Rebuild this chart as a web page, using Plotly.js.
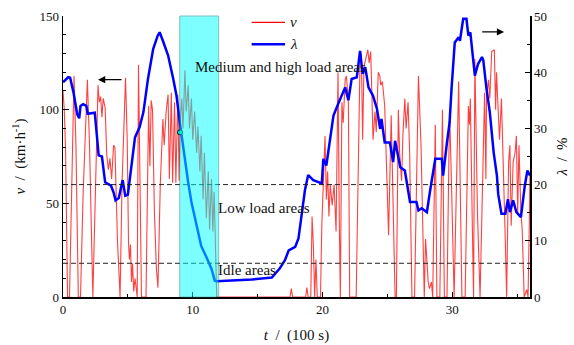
<!DOCTYPE html>
<html>
<head>
<meta charset="utf-8">
<script src="https://cdn.plot.ly/plotly-3.0.1.min.js"></script>
<style>html,body{margin:0;padding:0;background:#fff;}#chart{width:574px;height:345px;}</style>
</head>
<body>
<div id="chart"></div>
<script>
// Speed v (km/h) vs time t (100 s)
const vT = [0,0.1,0.2,0.35,0.5,0.65,0.85,1.0,1.18,1.35,1.55,1.88,2.05,2.3,2.45,2.7,2.8,2.9,3.0,3.1,3.25,3.37,3.5,3.62,3.75,3.9,4.0,4.2,4.4,4.55,4.82,4.95,5.05,5.12,5.2,5.28,5.36,5.45,5.55,5.65,5.72,5.82,5.95,6.05,6.4,6.6,6.7,6.8,6.9,7.05,7.2,7.32,7.5,7.7,7.8,7.95,8.1,8.2,8.35,8.45,8.6,8.7,8.85,8.95,
  9.05,9.15,9.25,9.4,9.5,9.65,9.75,9.9,10.0,10.15,10.3,10.4,10.55,10.65,10.8,10.9,11.05,11.2,11.3,11.45,11.55,11.65,11.85,
  17.5,17.6,17.7,18.7,18.8,18.9,19.1,19.2,19.3,19.4,19.5,19.6,19.85,19.95,20.07,20.2,20.3,20.4,20.5,20.6,20.75,20.9,21.05,21.2,21.3,21.38,21.5,21.6,21.75,21.85,22.0,22.1,22.6,22.9,23.0,23.1,23.2,23.35,23.5,23.6,23.72,23.82,23.9,24.05,24.15,24.3,24.42,24.5,24.62,24.8,24.95,25.1,25.3,25.45,25.6,25.7,25.85,25.95,26.1,26.2,26.35,26.45,26.6,26.72,26.9,27.1,27.4,27.6,27.85,27.95,28.05,28.15,28.25,28.4,28.5,28.7,28.82,29.05,29.25,29.4,29.6,29.8,29.95,30.15,30.5,30.75,31.0,31.25,31.33,31.4,31.55,31.65,31.75,31.85,31.95,32.15,32.5,32.6,32.65,32.8,32.9,33.05,33.25,33.35,33.42,33.5,33.65,33.8,33.95,34.1,34.2,34.35,34.45,34.55,34.7,34.85,34.95,35.05,35.15,35.3,35.4,35.55,35.75,35.85,35.95,36.0];
const vV = [110,100,78,0,0,60,118,80,0,0,55,116,80,0,40,113,104,107,96,106,101,76,68,74,63,81,80,30,0,60,117,84,29,20,28,8,18,3,10,2,0,124,50,0,0,102,70,105,100,45,15,5,60,95,81,99,108,63,109,61,104,61,108,62,
  95,106,90,121,99,113,90,106,84,99,77,91,67,86,52,77,42,67,36,63,35,56,0,
  0,4.5,0,0,5,0,0,43,28,0,20,0,0,38,67,86,52,67,43,60,49,60,35,120,40,0,104,93,116,118,104,0,0,127,130,84,123,127,132,125,131,106,84,99,88,120,118,113,115,102,72,33,97,50,0,0,100,77,62,86,106,90,104,78,0,0,118,81,0,31,20,8,4.5,8,0,92,0,0,100,0,0,100,60,0,115,0,0,102,92,106,40,0,127,81,45,0,109,63,107,116,106,131,132,100,120,107,84,106,72,29,0,72,81,38,72,77,86,45,81,45,36,0,4,0,40,66];

// Load ratio lambda (%) vs time t (100 s)
const lamT = [0,0.4,0.55,0.8,1.1,1.25,1.35,1.55,1.8,1.9,2.45,2.6,2.75,3.0,3.1,3.25,3.7,3.9,4.05,4.3,4.6,4.8,5.0,5.2,5.55,5.9,6.2,6.55,6.95,7.3,7.45,7.7,8.1,8.5,8.75,9.0,9.1,9.4,9.65,9.9,10.3,10.65,11.05,11.45,11.7,11.85,14.55,16.1,16.7,17.1,17.4,17.9,18.15,18.4,18.65,18.9,19.3,19.95,20.07,20.3,20.6,20.85,21.2,21.5,21.75,22.0,22.25,22.65,22.9,23.1,23.3,23.55,23.9,24.2,24.45,24.55,24.8,25.2,25.45,25.6,26.0,26.35,26.75,27.25,27.4,27.65,28.05,28.3,28.7,29.2,29.3,29.6,29.8,29.95,30.2,30.5,30.6,30.85,31.1,31.25,31.4,31.75,32.0,32.3,32.4,32.65,32.9,33.2,33.45,33.55,33.8,34.1,34.3,34.45,34.7,34.95,35.3,35.6,35.8,36.0];
const lamV = [38.2,39.1,39,36.5,32.5,31.8,34,34.3,34,32.6,32.8,29,25.2,25,22.8,20.4,19.8,18.6,17.2,17.6,20.8,18,18.2,22.2,28.4,30.2,32.9,38.8,44.1,46.5,47.1,45.6,43,38.8,35.8,31.1,29.3,24.6,20.4,16.9,12.7,9.1,7.1,5,2.9,2.8,3.1,3.45,5.05,6.5,8.3,8.9,10.4,14.8,19,21.7,20.8,20.2,24.6,23.4,28.7,32.3,34.3,35.8,37.3,35,38.8,39.1,43.8,39.7,40.9,37.3,35.8,33.5,29.9,31.7,27.5,27.5,24,27.8,23.1,22.5,16.9,16.9,15.4,15.8,15.1,18.9,24.6,24.6,21.6,27.5,31,37,45.3,46.2,45.6,49.5,49.5,46.5,47.1,39.4,41.5,42.7,42.1,37,32.9,25.7,21.6,18.3,14.8,14.8,17.4,15.1,17.2,15.1,14.2,19.8,22.5,21.6];

// highlighted point at the start of the shaded area
const dotT = [9.02];
const dotL = [29.3];

// reference levels and region
const vLevels = [60, 18];
const regionT = [9, 12];

// legend entries
const legendNames = ['<i>v</i>', '<i>λ</i>'];

const serif = '"Liberation Serif", "Times New Roman", serif';
const vLine = {color: 'rgba(255,0,0,0.75)', width: 1.1};
const lamLine = {color: '#0000ff', width: 2.5};

const traces = [
  {x: vT, y: vV, type: 'scatter', mode: 'lines', name: legendNames[0], line: vLine, yaxis: 'y'},
  {x: lamT, y: lamV, type: 'scatter', mode: 'lines', name: legendNames[1], line: lamLine, yaxis: 'y2'},
  {x: dotT, y: dotL, type: 'scatter', mode: 'markers', yaxis: 'y2',
   marker: {size: 5, color: '#00ffff', line: {color: '#000', width: 1}}}
];

const shapes = vLevels.map(v => ({
  type: 'line', xref: 'paper', x0: 0, x1: 1, yref: 'y', y0: v, y1: v,
  line: {color: '#222', width: 1, dash: '5px,3px'}, layer: 'above'
}));
shapes.push({
  type: 'rect', xref: 'x', x0: regionT[0], x1: regionT[1], yref: 'paper', y0: 0, y1: 1,
  fillcolor: '#00ffff', opacity: 0.5, line: {color: '#007f7f', width: 1}, layer: 'above'
});
// legend samples
const legX0 = 0.404, legX1 = 0.4754, legY = [0.9776, 0.8993];
shapes.push({type: 'line', xref: 'paper', yref: 'paper', x0: legX0, x1: legX1, y0: legY[0], y1: legY[0], line: {color: '#ff0000', width: 1.2}, layer: 'above'});
shapes.push({type: 'line', xref: 'paper', yref: 'paper', x0: legX0, x1: legX1, y0: legY[1], y1: legY[1], line: lamLine, layer: 'above'});

const annFont = {family: serif, size: 15, color: '#111'};
const annotations = [
  {x: 10.0, y: 122.6, xref: 'x', yref: 'y', text: 'Medium and high load areas', showarrow: false, xanchor: 'left', yanchor: 'middle', font: annFont},
  {x: 11.8, y: 47.4, xref: 'x', yref: 'y', text: 'Low load areas', showarrow: false, xanchor: 'left', yanchor: 'middle', font: annFont},
  {x: 11.8, y: 14.3, xref: 'x', yref: 'y', text: 'Idle areas', showarrow: false, xanchor: 'left', yanchor: 'middle', font: annFont},
  {x: 2.7, y: 116, ax: 4.63, ay: 116, xref: 'x', yref: 'y', axref: 'x', ayref: 'y', text: '', showarrow: true, arrowhead: 2, arrowsize: 1.2, arrowwidth: 1.2, arrowcolor: '#000'},
  {x: 34.0, y: 141.5, ax: 32.2, ay: 141.5, xref: 'x', yref: 'y', axref: 'x', ayref: 'y', text: '', showarrow: true, arrowhead: 2, arrowsize: 1.2, arrowwidth: 1.2, arrowcolor: '#000'},
  {x: 0.482, y: legY[0], xref: 'paper', yref: 'paper', text: legendNames[0], showarrow: false, xanchor: 'left', yanchor: 'middle', font: annFont},
  {x: 0.482, y: legY[1], xref: 'paper', yref: 'paper', text: legendNames[1], showarrow: false, xanchor: 'left', yanchor: 'middle', font: annFont}
];

const tickFont = () => ({family: serif, size: 13, color: '#111'});
const titleFont = () => ({family: serif, size: 15, color: '#111'});
const layout = {
  width: 574, height: 345,
  font: {family: serif, size: 13, color: '#111'},
  margin: {l: 63, r: 44, t: 16, b: 48},
  paper_bgcolor: '#fff', plot_bgcolor: '#fff',
  showlegend: false,
  xaxis: {range: [0, 36], showgrid: false, zeroline: false, showline: true, linecolor: '#000', linewidth: 1.5,
          ticks: 'inside', ticklen: 5, tickwidth: 1, tickcolor: '#000', tickvals: [0, 10, 20, 30],
          minor: {tickvals: [5, 15, 25, 35], ticks: 'inside', ticklen: 3, tickcolor: '#000'},
          tickfont: tickFont(),
          title: {text: '<i>t</i>  /  (100 s)', font: titleFont(), standoff: 13}},
  yaxis: {range: [0, 150], showgrid: false, zeroline: false, showline: true, linecolor: '#000', linewidth: 1.5,
          ticks: 'inside', ticklen: 6, tickwidth: 1, tickcolor: '#000', tickvals: [0, 50, 100, 150],
          minor: {dtick: 10, ticks: 'inside', ticklen: 3, tickcolor: '#000'},
          tickfont: tickFont(),
          title: {text: '<i>v</i>  /  (km·h<sup>-1</sup>)', font: titleFont(), standoff: 10}},
  yaxis2: {range: [0, 50], overlaying: 'y', side: 'right', showgrid: false, zeroline: false, showline: true,
           linecolor: '#000', linewidth: 1.5, ticks: 'inside', ticklen: 5, tickwidth: 1, tickcolor: '#000',
           tickvals: [0, 10, 20, 30, 40, 50],
           minor: {dtick: 5, ticks: 'inside', ticklen: 3, tickcolor: '#000'},
           tickfont: tickFont(),
           title: {text: '<i>λ</i>  /  %', font: titleFont(), standoff: 10}},
  shapes: shapes,
  annotations: annotations
};

Plotly.newPlot('chart', traces, layout, {staticPlot: true, displayModeBar: false});
</script>
</body>
</html>
